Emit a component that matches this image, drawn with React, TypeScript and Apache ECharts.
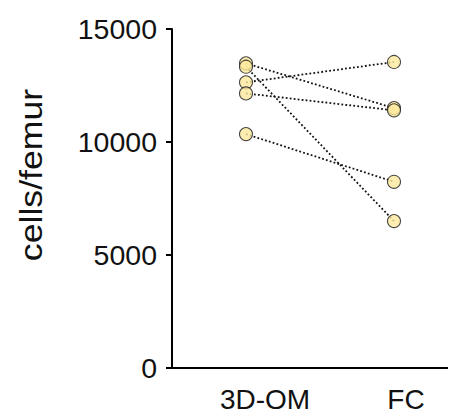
import React, { useEffect, useRef } from "react";
import * as echarts from "echarts";

const categories = ["3D-QM", "FC"];
const qmValues = [13480, 13330, 12640, 12150, 10350];
const fcValues = [11500, 6500, 13540, 11400, 8240];
const yTicks = [0, 5000, 10000, 15000];
const yName = "cells/femur";

export default function App() {
  const ref = useRef<HTMLDivElement>(null);
  useEffect(() => {
    if (!ref.current) return;
    const chart = echarts.init(ref.current, null, { renderer: "svg" });
    const font = "Liberation Sans, Arial, Helvetica, sans-serif";
    const lineSeries = qmValues.map((q, i) => ({
      type: "line",
      data: [q, fcValues[i]],
      showSymbol: false,
      symbol: "none",
      z: 2,
      lineStyle: { color: "#111", width: 1.8, type: [1.8, 2.2] },
    }));
    const points: [number, number][] = [];
    qmValues.forEach((v) => points.push([0, v]));
    fcValues.forEach((v) => points.push([1, v]));
    chart.setOption({
      animation: false,
      grid: { left: 172, top: 29, width: 296, height: 339, outerBoundsMode: "none", containLabel: false },
      xAxis: {
        type: "category",
        data: categories,
        boundaryGap: true,
        axisLine: { lineStyle: { color: "#000", width: 2 } },
        axisTick: { show: false },
        axisLabel: {
          interval: 0,
          hideOverlap: false,
          margin: 17,
          color: "#111",
          fontFamily: font,
          fontSize: 28,
          formatter: (v: string) => (v === categories[0] ? `{a|${v}}` : `{b|${v}}`),
          rich: {
            a: { fontSize: 28, fontFamily: font, color: "#111", padding: [0, 0, 0, 38] },
            b: { fontSize: 28, fontFamily: font, color: "#111", padding: [0, 0, 0, 24] },
          },
        },
      },
      yAxis: {
        type: "value",
        min: yTicks[0],
        max: yTicks[yTicks.length - 1],
        interval: yTicks[1] - yTicks[0],
        axisLine: { show: true, lineStyle: { color: "#000", width: 2 } },
        axisTick: { show: true, length: 6, lineStyle: { color: "#000", width: 2 } },
        splitLine: { show: false },
        axisLabel: {
          margin: 15,
          color: "#111",
          fontFamily: font,
          fontSize: 28.5,
          formatter: (v: number) => String(v),
        },
      },
      graphic: [
        {
          type: "text",
          x: 31,
          y: 175,
          rotation: Math.PI / 2,
          scaleX: 1.15,
          style: {
            text: yName,
            fontSize: 31,
            fontFamily: font,
            fill: "#111",
            textAlign: "center",
            textVerticalAlign: "middle",
          },
        },
      ],
      series: [
        ...lineSeries,
        {
          type: "scatter",
          data: points,
          symbol: "circle",
          symbolSize: 13,
          z: 3,
          itemStyle: { color: "#FEE89C", borderColor: "#1a1a1a", borderWidth: 1.1 },
        },
      ],
    });
    return () => chart.dispose();
  }, []);
  return <div ref={ref} style={{ width: 456, height: 417, margin: -8 }} />;
}
